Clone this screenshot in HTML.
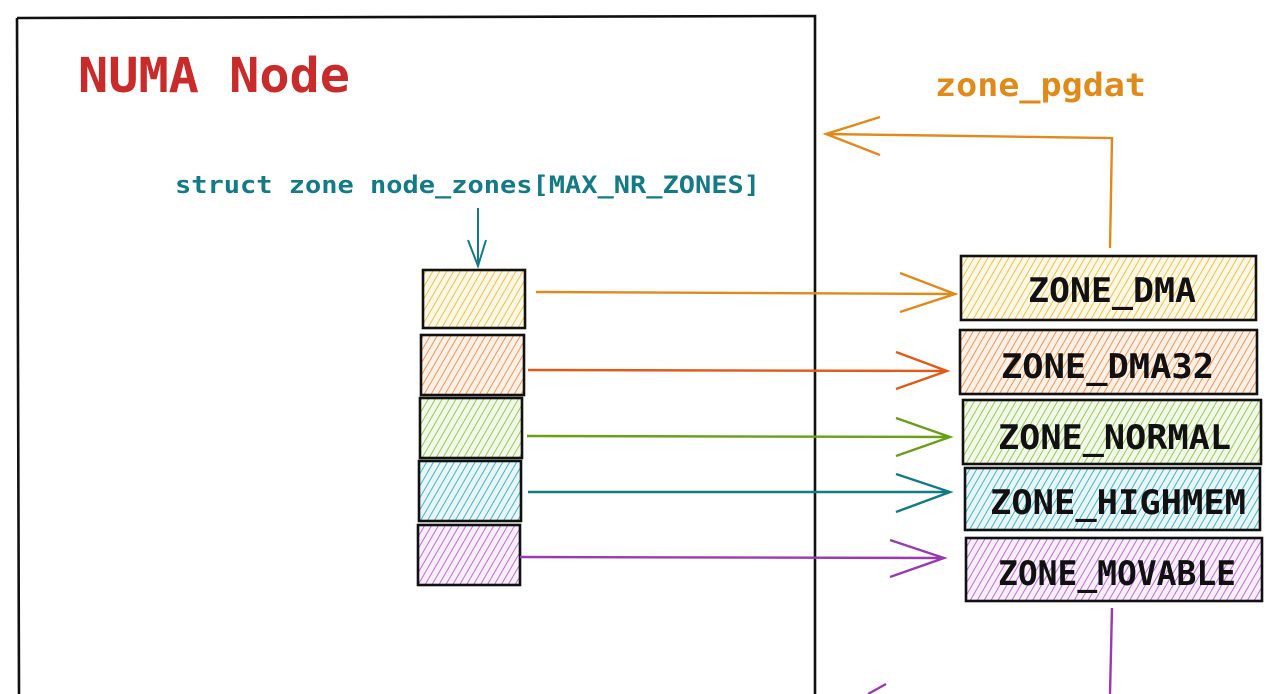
<!DOCTYPE html>
<html><head><meta charset="utf-8"><style>html,body{margin:0;padding:0;background:#fff;width:1280px;height:694px;overflow:hidden}</style></head>
<body>
<svg width="1280" height="694" viewBox="0 0 1280 694" xmlns="http://www.w3.org/2000/svg">
<defs>
<pattern id="hy" width="6" height="6" patternUnits="userSpaceOnUse" patternTransform="rotate(30)"><rect width="6" height="6" fill="#fff8e6"/><line x1="0" y1="0" x2="0" y2="6" stroke="#eebb3a" stroke-width="1.8"/></pattern>
<pattern id="ho" width="6" height="6" patternUnits="userSpaceOnUse" patternTransform="rotate(30)"><rect width="6" height="6" fill="#fff1e6"/><line x1="0" y1="0" x2="0" y2="6" stroke="#f08a4c" stroke-width="1.8"/></pattern>
<pattern id="hg" width="6" height="6" patternUnits="userSpaceOnUse" patternTransform="rotate(30)"><rect width="6" height="6" fill="#f3f9e8"/><line x1="0" y1="0" x2="0" y2="6" stroke="#8cc44a" stroke-width="1.8"/></pattern>
<pattern id="hc" width="6" height="6" patternUnits="userSpaceOnUse" patternTransform="rotate(30)"><rect width="6" height="6" fill="#e8f6f8"/><line x1="0" y1="0" x2="0" y2="6" stroke="#34aec0" stroke-width="1.8"/></pattern>
<pattern id="hp" width="6" height="6" patternUnits="userSpaceOnUse" patternTransform="rotate(30)"><rect width="6" height="6" fill="#f8eefc"/><line x1="0" y1="0" x2="0" y2="6" stroke="#b462d4" stroke-width="1.8"/></pattern>
</defs>
<g fill="none" stroke="#111" stroke-width="2.6">
<path d="M17 18 L815 16 L815 694 M17 18 L19 694"/>
</g>
<text x="78" y="92" textLength="272" lengthAdjust="spacingAndGlyphs" font-family="'DejaVu Sans Mono','Liberation Mono',monospace" font-weight="bold" font-size="48" fill="#c92a2a">NUMA Node</text>
<text x="935" y="96" textLength="211" lengthAdjust="spacingAndGlyphs" font-family="'DejaVu Sans Mono','Liberation Mono',monospace" font-weight="bold" font-size="32" fill="#e08a1a">zone_pgdat</text>
<text x="175" y="193" textLength="585" lengthAdjust="spacingAndGlyphs" font-family="'DejaVu Sans Mono','Liberation Mono',monospace" font-weight="bold" font-size="24" fill="#137a86">struct zone node_zones[MAX_NR_ZONES]</text>
<g stroke="#137a86" stroke-width="2" fill="none"><path d="M478 208 L478 266 M468 240 L478 266 L486 240"/></g>
<g stroke="#111" stroke-width="2.6">
<rect x="423" y="270" width="102" height="58" fill="url(#hy)"/>
<rect x="421" y="335" width="103" height="60" fill="url(#ho)"/>
<rect x="420" y="398" width="102" height="60" fill="url(#hg)"/>
<rect x="419" y="461" width="102" height="60" fill="url(#hc)"/>
<rect x="418" y="525" width="102" height="60" fill="url(#hp)"/>
<rect x="961" y="256" width="295" height="64" fill="url(#hy)"/>
<rect x="960" y="330" width="297" height="64" fill="url(#ho)"/>
<rect x="963" y="400" width="298" height="64" fill="url(#hg)"/>
<rect x="965" y="468" width="295" height="62" fill="url(#hc)"/>
<rect x="966" y="538" width="296" height="63" fill="url(#hp)"/>
</g>
<g font-family="'DejaVu Sans Mono','Liberation Mono',monospace" font-weight="bold" font-size="34" fill="#111" lengthAdjust="spacingAndGlyphs">
<text x="1028" y="302" textLength="168" lengthAdjust="spacingAndGlyphs">ZONE_DMA</text>
<text x="1001" y="378" textLength="213" lengthAdjust="spacingAndGlyphs">ZONE_DMA32</text>
<text x="998" y="449" textLength="233" lengthAdjust="spacingAndGlyphs">ZONE_NORMAL</text>
<text x="990" y="514" textLength="256" lengthAdjust="spacingAndGlyphs">ZONE_HIGHMEM</text>
<text x="998" y="585" textLength="238" lengthAdjust="spacingAndGlyphs">ZONE_MOVABLE</text>
</g>
<g fill="none" stroke-width="2.4">
<path stroke="#e08a1a" d="M536 292 L955 294 M900 273 L955 294 L900 312"/>
<path stroke="#e05a1a" d="M528 370 L947 371 M896 352 L947 371 L896 389"/>
<path stroke="#6a9f1a" d="M527 436 L950 437 M896 418 L950 437 L896 456"/>
<path stroke="#137a86" d="M528 492 L950 492 M896 474 L950 492 L896 512"/>
<path stroke="#9a3ab0" d="M520 557 L944 558 M890 540 L944 558 L890 577"/>
<path stroke="#e08a1a" d="M1110 248 L1112 138 L826 134 M880 117 L826 134 L880 155"/>
<path stroke="#9a3ab0" d="M1112 608 L1110 694 M868 694 L886 684"/>
</g>
</svg>
</body></html>
